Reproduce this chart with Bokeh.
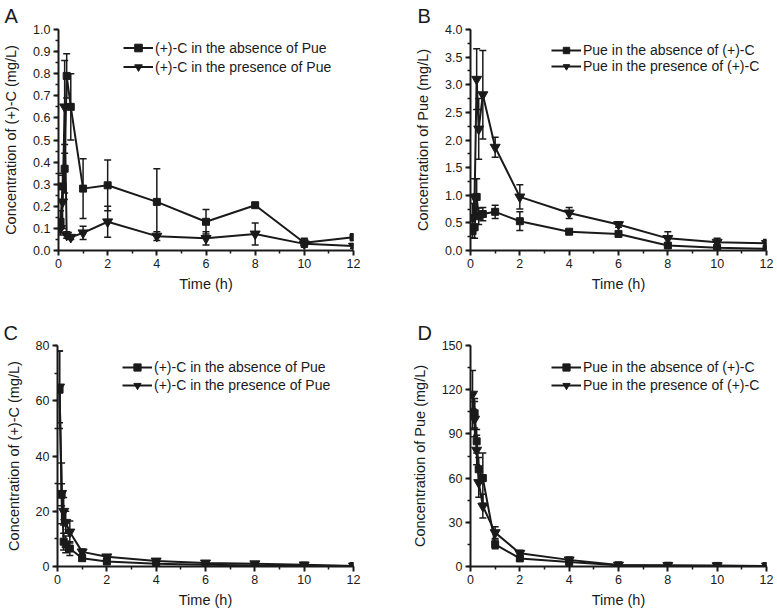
from bokeh.plotting import figure
from bokeh.models import (Range1d, FixedTicker, PrintfTickFormatter, Whisker, TeeHead,
                          ColumnDataSource, Legend, LegendItem, Title)
from bokeh.layouts import row, column
from bokeh.embed import file_html
from bokeh.resources import INLINE

# ---------------- data ----------------
time_h = [0.083, 0.167, 0.25, 0.333, 0.5, 1, 2, 4, 6, 8, 10, 12]

# Panel A: (+)-C, concentration (mg/L)
A_absent = [0.13, 0.29, 0.37, 0.79, 0.65, 0.28, 0.295, 0.22, 0.13, 0.205, 0.035, 0.06]
A_absent_sd = [0.05, 0.06, 0.11, 0.10, 0.15, 0.135, 0.115, 0.15, 0.055, 0.008, 0.02, 0.015]
A_present = [0.10, 0.22, 0.65, 0.07, 0.06, 0.08, 0.13, 0.065, 0.055, 0.075, 0.03, 0.02]
A_present_sd = [0.03, 0.12, 0.21, 0.015, 0.01, 0.03, 0.07, 0.02, 0.03, 0.05, 0.01, 0.01]

# Panel B: Pue, concentration (mg/L)
B_absent = [0.35, 0.42, 0.97, 0.62, 0.66, 0.70, 0.53, 0.34, 0.30, 0.09, 0.05, 0.03]
B_absent_sd = [0.12, 0.20, 0.33, 0.15, 0.12, 0.12, 0.17, 0.03, 0.04, 0.03, 0.02, 0.02]
B_present = [0.60, 0.97, 3.10, 2.20, 2.82, 1.87, 0.97, 0.68, 0.47, 0.22, 0.15, 0.13]
B_present_sd = [0.25, 0.33, 0.55, 0.55, 0.80, 0.18, 0.22, 0.10, 0.05, 0.12, 0.07, 0.07]

# Panel C: (+)-C, concentration (mg/L)
C_absent = [64, 26, 9.0, 8.0, 6.5, 3.0, 1.8, 1.0, 0.6, 0.4, 0.3, 0.2]
C_absent_sd = [14, 4, 3, 3, 2.5, 0.8, 0.5, 0.3, 0.2, 0.2, 0.1, 0.05]
C_present = [65, 26.5, 20, 16, 12.5, 5.3, 3.5, 2.0, 1.3, 1.0, 0.6, 0.2]
C_present_sd = [13, 11, 5, 4, 4, 1.0, 0.6, 0.5, 0.4, 0.4, 0.2, 0.1]

# Panel D: Pue, concentration (mg/L)
D_absent = [105, 104, 85, 66, 60, 15, 5.5, 3.0, 0.8, 0.5, 0.4, 0.3]
D_absent_sd = [12, 10, 8, 8, 17, 3, 1.5, 1.0, 0.3, 0.2, 0.2, 0.1]
D_present = [117, 100, 79, 57, 41, 23, 9, 4.5, 1.0, 0.8, 0.6, 0.4]
D_present_sd = [16, 12, 10, 10, 8, 4, 2, 2, 0.5, 0.3, 0.2, 0.1]

x_ticks = [0, 2, 4, 6, 8, 10, 12]
x_minor = [1, 3, 5, 7, 9, 11]

labels_C = ["(+)-C in the absence of Pue", "(+)-C in the presence of Pue"]
labels_P = ["Pue in the absence of (+)-C", "Pue in the presence of (+)-C"]
ylabel_C = "Concentration of (+)-C (mg/L)"
ylabel_P = "Concentration of Pue (mg/L)"
xlabel = "Time (h)"

FONT = "Liberation Sans"
INK = "#1a1a1a"


def panel(letter, letter_off, letter_standoff, ymax, ystep, yminor_step, fmt,
          absent, absent_sd, present, present_sd, leg_labels, ylabel,
          width, height, bl, br, bt, bb, leg_loc, leg_row_h):
    p = figure(width=width, height=height, output_backend="svg", toolbar_location=None,
               x_range=Range1d(0, 12), y_range=Range1d(0, ymax),
               min_border_left=bl, min_border_right=br, min_border_top=bt,
               min_border_bottom=bb)
    p.outline_line_color = None
    p.xgrid.visible = False
    p.ygrid.visible = False
    p.background_fill_color = "white"
    p.border_fill_color = "white"

    n = int(round(ymax / ystep))
    yt = [round(i * ystep, 4) for i in range(n + 1)]
    nm = int(round(ymax / yminor_step))
    ym = [round(i * yminor_step, 4) for i in range(nm + 1)]
    p.yaxis.ticker = FixedTicker(ticks=yt, minor_ticks=ym)
    p.xaxis.ticker = FixedTicker(ticks=x_ticks, minor_ticks=x_minor)
    if fmt:
        p.yaxis.formatter = PrintfTickFormatter(format=fmt)

    for ax in (p.xaxis, p.yaxis):
        ax.axis_line_width = 2
        ax.axis_line_color = INK
        ax.major_tick_line_width = 2
        ax.major_tick_line_color = INK
        ax.minor_tick_line_width = 1.5
        ax.minor_tick_line_color = INK
        ax.major_tick_in = 0
        ax.major_tick_out = 5
        ax.minor_tick_in = 0
        ax.minor_tick_out = 3
        ax.major_label_text_font = FONT
        ax.major_label_text_font_size = "12.5px"
        ax.major_label_text_color = INK
        ax.axis_label_text_font = FONT
        ax.axis_label_text_font_size = "14.5px"
        ax.axis_label_text_font_style = "normal"
        ax.axis_label_text_color = INK
        ax.major_label_standoff = 3
    p.xaxis.axis_label = xlabel
    p.yaxis.axis_label = ylabel
    p.xaxis.axis_label_standoff = 5
    p.yaxis.axis_label_standoff = 11

    renderers = []
    for vals, sd, marker, msize in ((absent, absent_sd, "square", 7),
                                     (present, present_sd, "inverted_triangle", 10)):
        src = ColumnDataSource(dict(
            x=time_h, y=vals,
            upper=[v + s for v, s in zip(vals, sd)],
            lower=[max(v - s, 0) for v, s in zip(vals, sd)]))
        w = Whisker(source=src, base="x", upper="upper", lower="lower", dimension="height",
                    line_color=INK, line_width=1.5,
                    upper_head=TeeHead(size=7, line_color=INK, line_width=1.5),
                    lower_head=TeeHead(size=7, line_color=INK, line_width=1.5))
        p.add_layout(w)
        ln = p.line("x", "y", source=src, line_color=INK, line_width=2)
        sc = p.scatter("x", "y", source=src, marker=marker, size=msize,
                       fill_color=INK, line_color=INK)
        renderers.append((ln, sc))

    leg = Legend(items=[LegendItem(label=leg_labels[0], renderers=list(renderers[0])),
                        LegendItem(label=leg_labels[1], renderers=list(renderers[1]))],
                 location=leg_loc, border_line_color=None, background_fill_alpha=0,
                 padding=0, spacing=0, margin=0, glyph_width=30, glyph_height=leg_row_h,
                 label_height=leg_row_h, label_standoff=2,
                 label_text_font=FONT, label_text_font_size="14px", label_text_color=INK)
    p.add_layout(leg)

    p.add_layout(Title(text=letter, align="left", offset=letter_off, standoff=letter_standoff,
                       text_font=FONT, text_font_size="20px", text_font_style="normal",
                       text_color=INK), "above")
    return p


# frames: 296 x 222 (top row), 296 x 221 (bottom row)
pA = panel("A", -54, 5, 1.0, 0.1, 0.05, "%.1f", A_absent, A_absent_sd, A_present, A_present_sd,
           labels_C, ylabel_C, 388, 306, 57, 35, 28, 56, (65, 174), 19)
pB = panel("B", -53, 5, 4.0, 0.5, 0.25, "%.1f", B_absent, B_absent_sd, B_present, B_present_sd,
           labels_P, ylabel_P, 388, 306, 82, 10, 28, 56, (81, 176), 16)
pC = panel("C", -54, 3, 80, 20, 10, None, C_absent, C_absent_sd, C_present, C_present_sd,
           labels_C, ylabel_C, 388, 306, 57, 35, 39, 46, (65, 172), 18)
pD = panel("D", -53, 3, 150, 30, 15, None, D_absent, D_absent_sd, D_present, D_present_sd,
           labels_P, ylabel_P, 388, 306, 82, 10, 39, 46, (81, 172), 18)

layout = column(row(pA, pB, spacing=0), row(pC, pD, spacing=0), spacing=0)

open("out.html", "w").write(file_html(layout, INLINE))
